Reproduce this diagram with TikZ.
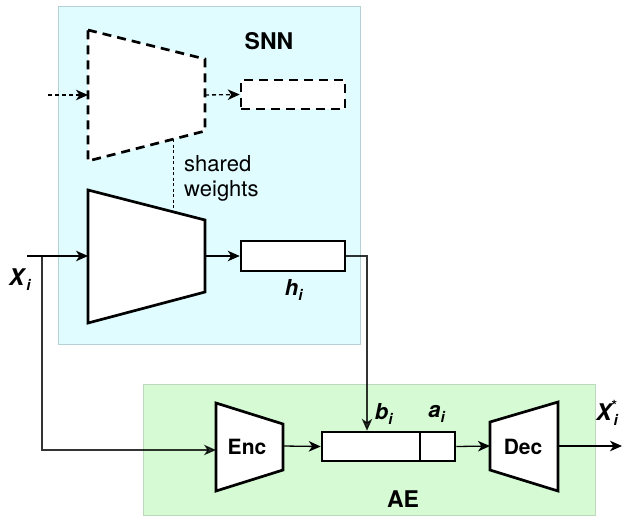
\documentclass[tikz,border=0pt]{standalone}
\usepackage{fontspec}
\setmainfont{TeX Gyre Heros}
\usetikzlibrary{arrows.meta}
\definecolor{snnfill}{HTML}{E0FCFF}
\definecolor{snnline}{HTML}{B4D2D6}
\definecolor{aefill}{HTML}{D6FBD4}
\definecolor{aeline}{HTML}{BDD9BD}
\newcommand{\vsub}[2]{\textbf{\textit{#1}}\raisebox{-5pt}{\fontsize{15}{15}\selectfont\textbf{\textit{#2}}}}
\begin{document}
\begin{tikzpicture}[x=1pt,y=-1pt,
  lbl/.style={font=\fontsize{22}{25}\selectfont, inner sep=0pt},
  blbl/.style={font=\fontsize{23}{26}\selectfont\bfseries, inner sep=0pt},
  mlbl/.style={font=\fontsize{21}{24}\selectfont\bfseries, inner sep=0pt},
  varlbl/.style={font=\fontsize{22}{24}\selectfont, inner sep=0pt},
  biglbl/.style={font=\fontsize{23}{25}\selectfont, inner sep=0pt},
  trap/.style={draw=black, line width=2.7pt, fill=white, line join=miter},
  dtrap/.style={trap, dash pattern=on 9pt off 6pt},
  vec/.style={draw=black, line width=2.5pt, fill=white, inner sep=0pt},
  conn/.style={draw=black, line width=1.3pt, -{Stealth[length=12pt,width=10.5pt,inset=3.5pt]}},
  dconn/.style={conn, dash pattern=on 4pt off 3pt},
  group/.style={inner sep=0pt, anchor=north west, line width=1pt}]
\useasboundingbox (0,0) rectangle (636,517);

% group boxes
\node[group, draw=snnline, fill=snnfill, minimum width=302pt, minimum height=338pt] (snn) at (58,6) {};
\node[group, draw=aeline, fill=aefill, minimum width=452pt, minimum height=131pt] (ae) at (143,384) {};
\node[blbl] (snnl) at (269,41) {SNN};
\node[blbl] (ael) at (403,499) {AE};

% dashed (shared) encoder
\draw[dtrap] (88,30) -- (205,59) -- (205,131) -- (88,161) -- cycle;
\coordinate (d1in) at (88,95);
\coordinate (d1out) at (205,95);
\coordinate (din) at (48,95);
\node[vec, dash pattern=on 9pt off 6pt, minimum width=104pt, minimum height=29pt] (dh) at (293,94.5) {};
\draw[dconn] (din) -- (d1in);
\draw[dconn] (d1out) -- (dh.west);

% solid encoder
\draw[trap] (88,190) -- (205,220) -- (205,292) -- (88,323) -- cycle;
\coordinate (s1in) at (88,256);
\coordinate (s1out) at (205,256);
\node[vec, minimum width=104pt, minimum height=30pt] (h) at (293,256) {};
\node[varlbl] (hl) at (294,290) {\vsub{h}{i}};

% shared weights
\coordinate (sw1) at (173,139);
\coordinate (sw2) at (173,212);
\draw[black, line width=1pt, dash pattern=on 3pt off 2.5pt] (sw1) -- (sw2);
\node[lbl, anchor=west, align=left] (swl) at (184,178) {shared\\weights};

% input x_i
\coordinate (xstart) at (27,256);
\coordinate (xsplit) at (42,256);
\node[biglbl] (xl) at (20,280) {\vsub{X}{i}};
\draw[conn] (xstart) -- (s1in);
\draw[conn] (s1out) -- (h.west);

% AE
\draw[trap] (216,403) -- (283,424) -- (283,470) -- (216,491) -- cycle;
\node[mlbl] (encl) at (247,447) {Enc};
\coordinate (encin) at (216,450);
\coordinate (encout) at (283,446);

\node[vec, minimum width=98pt, minimum height=29pt] (b) at (371,446.5) {};
\node[vec, minimum width=35pt, minimum height=29pt] (a) at (437.5,446.5) {};
\node[varlbl] (bl) at (384,414) {\vsub{b}{i}};
\node[varlbl] (al) at (437,414) {\vsub{a}{i}};

\draw[trap] (490,422) -- (558,402) -- (558,491) -- (490,470) -- cycle;
\node[mlbl] (decl) at (523,447) {Dec};
\coordinate (decin) at (490,446);
\coordinate (decout) at (558,446);
\coordinate (xout) at (622,446);
\node[biglbl, anchor=west] (xsl) at (596,413) {\vsub{X}{i}\hspace{-7pt}\raisebox{10pt}{\fontsize{14}{14}\selectfont\textbf{*}}};

\draw[conn, opacity=0.8] (xsplit) |- (encin);
\coordinate (hb) at (367,256);
\draw[conn, opacity=0.8] (h.east) -- (hb) -- (hb |- b.north);
\draw[conn] (encout) -- (b.west);
\draw[conn] (a.east) -- (decin);
\draw[conn] (decout) -- (xout);
\end{tikzpicture}
\end{document}
